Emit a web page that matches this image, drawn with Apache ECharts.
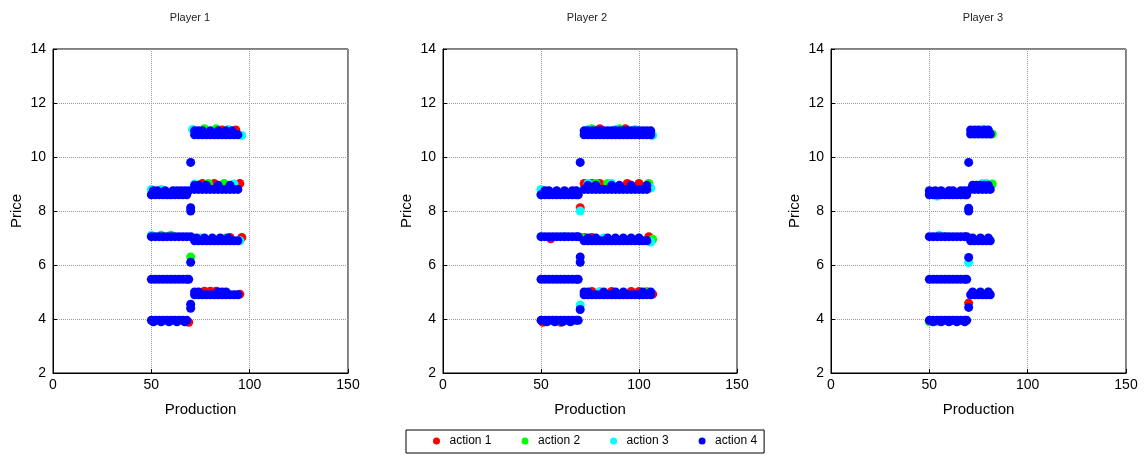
<!DOCTYPE html>
<html><head><meta charset="utf-8">
<script src="https://cdn.jsdelivr.net/npm/echarts@6/dist/echarts.min.js"></script>
<style>html,body{margin:0;padding:0;background:#fff}#c{width:1146px;height:455px}</style>
</head><body><div id="c"></div>
<script>
const players = ['Player 1', 'Player 2', 'Player 3'];
const actions = ['action 1', 'action 2', 'action 3', 'action 4'];
const colors = ['#ff0000', '#00ff00', '#00ffff', '#0000ff'];
const xTickValues = [0, 50, 100, 150];
const yTickValues = [2, 4, 6, 8, 10, 12, 14];

// Each row: [price, [production values]]
const p1Action1 = [[11.0,[86,93]],[9.02,[76,82,95]],[7.02,[90,96]],[7.05,[56]],[4.92,[95]],[5.03,[77,80,83]],[3.88,[69]]];
const p1Action2 = [[11.05,[77,83]],[9.02,[79,87]],[6.3,[70]],[7.1,[55,60]],[7.0,[88]],[3.92,[52]]];
const p1Action3 = [[11.02,[71,89]],[10.8,[96]],[9.0,[72,92]],[8.8,[50,55]],[8.6,[59]],[7.1,[50]],[6.9,[95]],[7.0,[75]],[4.9,[93]]];
const p1Action4 = [
  [3.95,[50,52,54,56,58,60,62,64,66,68]],
  [3.9,[51,55,59,63,67]],
  [4.4,[70]],[4.55,[70]],
  [4.9,[72,74,76,78,80,82,84,86,88,90,92,94]],
  [5.0,[72,74,84,86,88]],
  [5.47,[50,52,54,56,58,60,62,64,66,68,69]],
  [6.1,[70]],
  [7.05,[50,52,54,56,58,60,62,64,66,68,70]],
  [6.9,[72,74,76,78,80,82,84,86,88,90,92,94]],
  [7.0,[73,77,81,85,89]],
  [8.0,[70]],[8.12,[70]],
  [8.6,[50,52,54,56,58,60,62,64,66,68]],
  [8.75,[51,53,57,61,63,65,67,69]],
  [8.8,[72,74,76,78,80,82,84,86,88,90,92,94]],
  [8.95,[72,74,78,84,90]],
  [9.8,[70]],
  [10.82,[72,74,76,78,80,82,84,86,88,90,92,94]],
  [10.97,[72,74,76,80,84,88,91]]
];

const p2Action1 = [[8.12,[70]],[9.02,[72,76,80,94,100]],[11.05,[80,93]],[7.05,[105]],[7.02,[72,76]],[5.02,[76,86,96,100]],[4.92,[107]],[3.88,[51,60]],[6.97,[55]]];
const p2Action2 = [[8.6,[50]],[11.05,[76,90]],[9.02,[78,84,105]],[6.95,[107]],[7.02,[71]],[5.02,[104]],[3.92,[58,60]],[7.05,[62]]];
const p2Action3 = [[8.8,[50]],[8.0,[70]],[4.52,[70]],[11.02,[74,88,98]],[10.8,[107]],[9.02,[74,86]],[8.85,[106]],[7.05,[50]],[6.85,[106]],[7.0,[82]],[5.02,[80]],[3.95,[56]]];
const p2Action4 = [
  [3.95,[50,52,54,56,58,60,62,64,66,68,69]],
  [3.9,[53,57,61,65]],
  [4.35,[70]],
  [4.9,[72,74,76,78,80,82,84,86,88,90,92,94,96,98,100,102,104,106]],
  [5.0,[72,74,82,88,92,102,106]],
  [5.47,[50,52,54,56,58,60,62,64,66,68,69]],
  [6.1,[70]],[6.3,[70]],
  [7.05,[50,52,54,56,58,60,62,64,66,68,69]],
  [6.9,[72,74,76,78,80,82,84,86,88,90,92,94,96,98,100,102,104]],
  [7.0,[74,78,84,88,92,96,100]],
  [8.6,[50,52,54,56,58,60,62,64,66,68,69]],
  [8.75,[52,54,58,62,66,68]],
  [8.8,[72,74,76,78,80,82,84,86,88,90,92,94,96,98,100,102,104]],
  [8.95,[74,78,86,90,96,104]],
  [9.8,[70]],
  [10.82,[72,74,76,78,80,82,84,86,88,90,92,94,96,98,100,102,104,106]],
  [10.97,[72,74,76,78,80,82,84,86,88,90,92,94,96,98,100,102,104,106]]
];

const p3Action1 = [[4.59,[70]]];
const p3Action2 = [[10.85,[82]],[9.0,[82]],[7.05,[58]],[5.0,[80]],[3.9,[50]]];
const p3Action3 = [[11.02,[77]],[9.02,[77,79]],[8.55,[54]],[6.09,[70]],[7.1,[55]],[3.9,[54]],[4.95,[75]]];
const p3Action4 = [
  [3.95,[50,52,54,56,58,60,62,64,66,68,69]],
  [3.9,[52,56,60,64,68]],
  [4.43,[70]],
  [4.9,[71,73,75,77,79,81]],[5.0,[72,76,80]],
  [5.47,[50,52,54,56,58,60,62,64,66,68,69]],
  [6.28,[70]],
  [7.05,[50,52,54,56,58,60,62,64,66,68,69]],
  [6.9,[71,73,75,77,79,81]],[7.0,[72,76,80]],
  [8.0,[70]],[8.1,[70]],
  [8.6,[50,52,54,56,58,60,62,64,66,68,69]],
  [8.75,[50,53,56,60,62,66,68]],
  [8.8,[71,73,75,77,79,81]],[8.95,[72,74,76,78,80]],
  [9.8,[70]],
  [10.85,[71,73,75,77,79,81]],[11.0,[71,73,75,78,80]]
];

const playerData = [
  [p1Action1, p1Action2, p1Action3, p1Action4],
  [p2Action1, p2Action2, p2Action3, p2Action4],
  [p3Action1, p3Action2, p3Action3, p3Action4]
];

function toPoints(rows) {
  const pts = [];
  rows.forEach(function (r) { r[1].forEach(function (x) { pts.push([x, r[0]]); }); });
  return pts;
}

const FONT = 'Liberation Sans, Arial, Helvetica, sans-serif';
const gridPos = [
  {left: 53, top: 49, width: 295, height: 324},
  {left: 443, top: 49, width: 294, height: 324},
  {left: 831, top: 49, width: 295, height: 324}
];
const titleCenters = [190, 587, 983];

const grids = [], xAxes = [], yAxes = [], series = [], graphics = [];
gridPos.forEach(function (g, i) {
  grids.push(Object.assign({show: true, borderColor: '#000', borderWidth: 1, containLabel: false}, g));
  xAxes.push({
    type: 'value', gridIndex: i, min: xTickValues[0], max: xTickValues[xTickValues.length - 1],
    interval: xTickValues[1] - xTickValues[0],
    name: 'Production', nameLocation: 'middle', nameGap: 29,
    nameTextStyle: {fontSize: 15, color: '#000', fontFamily: FONT},
    axisLine: {show: true, lineStyle: {color: '#000', width: 1}},
    axisTick: {show: true, inside: true, length: 4, lineStyle: {color: '#000'}},
    axisLabel: {fontSize: 14, color: '#000', fontFamily: FONT, margin: 5},
    splitLine: {show: true, lineStyle: {type: 'dotted', color: '#999', width: 1}}
  });
  yAxes.push({
    type: 'value', gridIndex: i, min: yTickValues[0], max: yTickValues[yTickValues.length - 1],
    interval: yTickValues[1] - yTickValues[0],
    name: 'Price', nameLocation: 'middle', nameGap: 29,
    nameTextStyle: {fontSize: 15, color: '#000', fontFamily: FONT},
    axisLine: {show: true, lineStyle: {color: '#000', width: 1}},
    axisTick: {show: true, inside: true, length: 4, lineStyle: {color: '#000'}},
    axisLabel: {fontSize: 14, color: '#000', fontFamily: FONT, margin: 7},
    splitLine: {show: true, lineStyle: {type: 'dotted', color: '#999', width: 1}}
  });
  graphics.push({
    type: 'text', x: titleCenters[i], y: 12,
    style: {text: players[i], textAlign: 'center', textVerticalAlign: 'top', font: '11px ' + FONT, fill: '#222'}
  });
});

actions.forEach(function (a, ai) {
  playerData.forEach(function (pd, pi) {
    series.push({
      type: 'scatter', name: a, xAxisIndex: pi, yAxisIndex: pi,
      data: toPoints(pd[ai]), symbol: 'circle', symbolSize: 9,
      itemStyle: {color: colors[ai], opacity: 1},
      emphasis: {disabled: true}, animation: false
    });
  });
});

const chart = echarts.init(document.getElementById('c'), null, {renderer: 'canvas'});
chart.setOption({
  backgroundColor: '#fff',
  animation: false,
  grid: grids, xAxis: xAxes, yAxis: yAxes, series: series, graphic: graphics,
  legend: {
    data: actions, left: 406, top: 430, orient: 'horizontal',
    borderColor: '#000', borderWidth: 1, padding: [5, 7, 6, 27],
    itemWidth: 16, itemHeight: 7, itemGap: 30, icon: 'circle',
    textStyle: {fontSize: 12, color: '#000', fontFamily: FONT},
    selectedMode: false
  }
});
</script></body></html>
